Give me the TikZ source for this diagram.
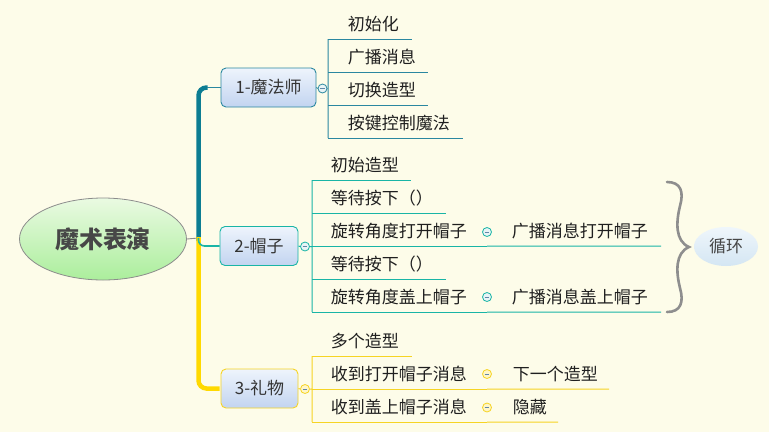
\documentclass[tikz,border=0pt]{standalone}
\usepackage{fontspec}
\setmainfont{Noto Sans CJK SC}
\usetikzlibrary{shapes.geometric}

\definecolor{bg}{HTML}{FDFCE9}
\definecolor{rootline}{HTML}{8C8C8C}
\definecolor{rootTop}{HTML}{EAFAE2}
\definecolor{rootBot}{HTML}{ABEE9C}
\definecolor{titletext}{HTML}{474747}
\definecolor{boxTop}{HTML}{EEF4FC}
\definecolor{boxBot}{HTML}{C2D4F0}
\definecolor{boxtext}{HTML}{333333}
\definecolor{tealtrunk}{HTML}{0C7D92}
\definecolor{tealbox}{HTML}{2A87A0}
\definecolor{turq}{HTML}{19B5A6}
\definecolor{goldtrunk}{HTML}{FFD900}
\definecolor{gold}{HTML}{F6D424}
\definecolor{foldfill}{HTML}{E8F4F6}
\definecolor{foldgold}{HTML}{FFF6C8}
\definecolor{minus}{HTML}{5F86A8}
\definecolor{bracegray}{HTML}{8E8E8E}
\definecolor{loopTop}{HTML}{EFF6FB}
\definecolor{loopBot}{HTML}{D4E6F3}

\begin{document}
\begin{tikzpicture}[x=1pt, y=-1pt]
  \tikzstyle{root_node} = [shape=ellipse, draw=rootline, line width=0.8pt, top color=rootTop, bottom color=rootBot, minimum width=167pt, minimum height=82pt, text=titletext, font=\fontsize{24}{28}\selectfont\bfseries]
  \tikzstyle{main_node} = [shape=rectangle, rounded corners=5pt, line width=0.9pt, top color=boxTop, bottom color=boxBot, text=boxtext, inner sep=0pt, minimum height=39pt, font=\fontsize{17}{20}\selectfont]
  \tikzstyle{topic}     = [anchor=south east, inner xsep=0pt, inner ysep=3pt, text height=14pt, text depth=5pt, align=left, text=black!88, font=\fontsize{17}{20}\selectfont]
  \tikzstyle{fold}      = [shape=circle, line width=0.8pt, minimum size=9pt, inner sep=0pt, path picture={\draw[minus, line width=0.7pt] ([xshift=-2.3pt]path picture bounding box.center) -- ([xshift=2.3pt]path picture bounding box.center);}]
  \tikzstyle{loop_node} = [shape=ellipse, top color=loopTop, bottom color=loopBot, minimum width=64pt, minimum height=39pt, text=boxtext!90, font=\fontsize{17}{20}\selectfont]

  \fill[bg] (0,0) rectangle (769,432);
  \useasboundingbox (0,0) rectangle (769,432);

  % centre
  \node[root_node] (root) at (103,239) {魔术表演};
  \coordinate (hub) at (198.5,238);

  \node[main_node, draw=tealbox, minimum width=95pt] (wiz)  at (268.5,87.5) {1-魔法师};
  \node[main_node, draw=turq,    minimum width=78pt] (hat)  at (259,246)    {2-帽子};
  \node[main_node, draw=gold,    minimum width=77pt] (gift) at (259.5,388.5) {3-礼物};

  \node[fold, draw=tealbox, fill=foldfill] (wiz_f)  at (322.5,88.5) {};
  \node[fold, draw=turq,    fill=foldfill] (hat_f)  at (305,246.5)  {};
  \node[fold, draw=gold,    fill=foldgold] (gift_f) at (305,389)    {};

  \coordinate (wiz_bus)  at (328,88.5);
  \coordinate (hat_bus)  at (312,246.5);
  \coordinate (gift_bus) at (312,389);

  % 1-魔法师
  \node[topic, text width=64pt]  (wiz_t1) at (412,39)  {初始化};
  \node[topic, text width=80pt]  (wiz_t2) at (428,72)  {广播消息};
  \node[topic, text width=80pt]  (wiz_t3) at (428,105) {切换造型};
  \node[topic, text width=115pt] (wiz_t4) at (463,138) {按键控制魔法};

  % 2-帽子
  \node[topic, text width=80pt]  (hat_t1) at (411,180) {初始造型};
  \node[topic, text width=115pt] (hat_t2) at (446,213) {等待按下（）};
  \node[topic, text width=156pt] (hat_t3) at (487,246) {旋转角度打开帽子};
  \node[topic, text width=115pt] (hat_t4) at (446,279) {等待按下（）};
  \node[topic, text width=156pt] (hat_t5) at (487,312) {旋转角度盖上帽子};

  \node[fold, draw=turq, fill=foldfill] (hat_t3_f) at (487,232) {};
  \node[topic, text width=149pt] (hat_t3_c) at (661,246) {广播消息打开帽子};
  \node[fold, draw=turq, fill=foldfill] (hat_t5_f) at (487,297) {};
  \node[topic, text width=149pt] (hat_t5_c) at (661,312) {广播消息盖上帽子};

  % 3-礼物
  \node[topic, text width=81pt]  (gift_t1) at (412,356) {多个造型};
  \node[topic, text width=156pt] (gift_t2) at (487,389) {收到打开帽子消息};
  \node[topic, text width=156pt] (gift_t3) at (487,422) {收到盖上帽子消息};

  \node[fold, draw=gold, fill=foldgold] (gift_t2_f) at (487,374) {};
  \node[topic, text width=96pt] (gift_t2_c) at (609,389) {下一个造型};
  \node[fold, draw=gold, fill=foldgold] (gift_t3_f) at (487,407.5) {};
  \node[topic, text width=45pt] (gift_t3_c) at (558,422) {隐藏};

  % loop
  \coordinate (br_top) at (667,182);
  \coordinate (br_tip) at (689,247);
  \coordinate (br_bot) at (667,312);
  \node[loop_node] (loop) at (726,246.5) {循环};

  % trunk
  \draw[rootline, line width=0.9pt] (root.east) -- (hub);
  \draw[tealtrunk, line width=4.5pt, rounded corners=8pt] ([yshift=-3pt]hub) |- ([xshift=-13pt]wiz.west);
  \draw[tealbox, line width=1.8pt] ([xshift=-14pt]wiz.west) -- (wiz.west);
  \draw[goldtrunk, line width=4.5pt, rounded corners=8pt] ([yshift=1pt]hub) |- ([xshift=-1pt]gift.west);
  \draw[turq, line width=1.6pt, rounded corners=6pt] (hub) |- (hat.west);

  \draw[tealbox, line width=1pt]
    (wiz.east) -- (wiz_f.west)
    (wiz_f.east) -- (wiz_bus)
    (wiz_bus |- wiz_t1.south) -- (wiz_bus |- wiz_t4.south)
  ;
  \foreach \t in {wiz_t1, wiz_t2, wiz_t3, wiz_t4}
    \draw[tealbox, line width=1pt] (wiz_bus |- \t.south) -- (\t.south east);

  \draw[turq, line width=1pt]
    (hat.east) -- (hat_f.west)
    (hat_f.east) -- (hat_bus)
    (hat_bus |- hat_t1.south) -- (hat_bus |- hat_t5.south)
    (hat_t3.south east) -- (hat_t3_c.south east)
    (hat_t5.south east) -- (hat_t5_c.south east)
  ;
  \foreach \t in {hat_t1, hat_t2, hat_t3, hat_t4, hat_t5}
    \draw[turq, line width=1pt] (hat_bus |- \t.south) -- (\t.south east);

  \draw[gold, line width=1pt]
    (gift.east) -- (gift_f.west)
    (gift_f.east) -- (gift_bus)
    (gift_bus |- gift_t1.south) -- (gift_bus |- gift_t3.south)
    (gift_t2.south east) -- (gift_t2_c.south east)
    (gift_t3.south east) -- (gift_t3_c.south east)
  ;
  \foreach \t in {gift_t1, gift_t2, gift_t3}
    \draw[gold, line width=1pt] (gift_bus |- \t.south) -- (\t.south east);

  \draw[bracegray, line width=2.6pt, line cap=round]
    (br_top) .. controls (681,182) and (684,192) .. (680,206)
             .. controls (676,222) and (675,241) .. (br_tip)
             .. controls (675,253) and (676,272) .. (680,288)
             .. controls (684,302) and (681,312) .. (br_bot);

\end{tikzpicture}
\end{document}
